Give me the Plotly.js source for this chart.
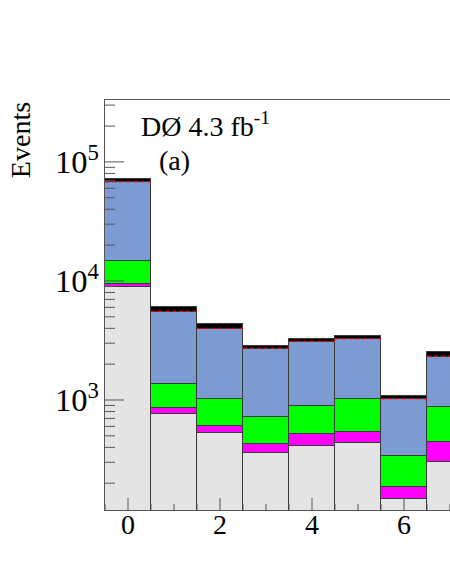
<!DOCTYPE html>
<html lang="en">

<head>
  <meta charset="UTF-8">
  <title>DØ stacked histogram</title>
  <script src="https://cdn.plot.ly/plotly-3.0.1.min.js"></script>
  <style>
    body {
      margin: 0;
      background: #ffffff;
    }

    #chart {
      width: 450px;
      height: 582px;
    }

    #note {
      position: absolute;
      left: 0;
      top: 0;
      font: 10px monospace;
      color: #ffffff;
    }
  </style>
</head>

<body>
  <div id="chart"></div>
  <div id="note"></div>

  <script>
    let note = document.getElementById("note");
    note.textContent = "\u00a0";

    // bin centres
    let bins = [0, 1, 2, 3, 4, 5, 6, 7];

    // stacked components, bottom to top
    let grayVals = [8900, 758, 525, 361, 410, 437, 146, 303];
    let magentaVals = [540, 93, 83, 66, 105, 105, 41, 143];
    let greenVals = [5360, 504, 405, 297, 381, 471, 149, 422];
    let blueVals = [52800, 4165, 2937, 1976, 2174, 2222, 677, 1442];
    let bandVals = [4000, 490, 370, 140, 165, 235, 74, 240];

    let xRange = [-0.5, 7.0];
    let yRange = [2.076, 5.52]; // log10

    let W = 450, H = 582;
    let margin = { l: 105, r: 0, t: 100, b: 72 };
    let plotW = W - margin.l - margin.r;
    let plotH = H - margin.t - margin.b;

    let edge = { color: "#3a3a3a", width: 1 };

    function layer(vals, color, name) {
      return {
        type: "bar",
        x: bins,
        y: vals,
        width: 1,
        name: name,
        marker: { color: color, line: edge },
        hoverinfo: "skip"
      };
    }

    // red dashed segment per bin, just inside the black band
    let stepX = [];
    let stepY = [];
    bins.forEach((b, i) => {
      let total = grayVals[i] + magentaVals[i] + greenVals[i] + blueVals[i];
      stepX.push(b - 0.5, b + 0.5, null);
      stepY.push(total * 1.012, total * 1.012, null);
    });

    // inside tick marks, drawn as a line trace so they sit on top of the bars
    let tickX = [];
    let tickY = [];
    let ySpan = yRange[1] - yRange[0];
    let xSpan = xRange[1] - xRange[0];

    for (let v = -0.5; v <= xRange[1]; v += 0.5) {
      let len = v % 2 === 0 ? 12 : 6;
      tickX.push(v, v, null);
      tickY.push(Math.pow(10, yRange[0]), Math.pow(10, yRange[0] + len / plotH * ySpan), null);
    }
    for (let d = 2; d <= 5; d++) {
      for (let m = 1; m <= 9; m++) {
        let v = m * Math.pow(10, d);
        let lv = Math.log10(v);
        if (lv < yRange[0] || lv > yRange[1]) continue;
        let len = m === 1 ? 19 : 10;
        tickX.push(xRange[0], xRange[0] + len / plotW * xSpan, null);
        tickY.push(v, v, null);
      }
    }

    let tickGray = "#555555";

    let traces = [
      layer(grayVals, "#e4e4e4", "gray"),
      layer(magentaVals, "#ff00ff", "magenta"),
      layer(greenVals, "#00ff00", "green"),
      layer(blueVals, "#7b9bd2", "blue"),
      layer(bandVals, "#000000", "band"),
      {
        type: "scatter",
        mode: "lines",
        x: stepX,
        y: stepY,
        line: { color: "#e00000", width: 1.2, dash: "4px,3px" },
        hoverinfo: "skip"
      },
      {
        type: "scatter",
        mode: "lines",
        x: tickX,
        y: tickY,
        line: { color: tickGray, width: 1 },
        hoverinfo: "skip"
      }
    ];

    let serif = "Liberation Serif";

    let layout = {
      width: W,
      height: H,
      margin: margin,
      barmode: "stack",
      bargap: 0,
      showlegend: false,
      font: { family: serif, size: 28, color: "#000000" },
      xaxis: {
        range: xRange,
        dtick: 2,
        tick0: 0,
        ticks: "",
        ticklabelstandoff: -11,
        showline: true,
        mirror: true,
        linecolor: tickGray,
        showgrid: false,
        zeroline: false,
        tickfont: { size: 28 }
      },
      yaxis: {
        type: "log",
        range: yRange,
        dtick: 1,
        exponentformat: "power",
        ticks: "",
        showline: true,
        linecolor: tickGray,
        showgrid: false,
        zeroline: false,
        tickfont: { size: 26 }
      },
      annotations: [
        {
          xref: "paper", yref: "paper",
          x: 0.099, y: 0.94,
          xanchor: "left", yanchor: "middle",
          text: "DØ 4.3 fb<sup>-1</sup>",
          showarrow: false
        },
        {
          xref: "paper", yref: "paper",
          x: 0.15, y: 0.852,
          xanchor: "left", yanchor: "middle",
          text: "(a)",
          showarrow: false
        },
        {
          xref: "paper", yref: "paper",
          x: -0.246, y: 1.0,
          xanchor: "center", yanchor: "top",
          text: "Events",
          textangle: -90,
          showarrow: false
        }
      ]
    };

    Plotly.newPlot("chart", traces, layout, { displayModeBar: false }).then(() => {
      note.textContent = "\u00a0\u00a0";
    });
  </script>

</body>

</html>
